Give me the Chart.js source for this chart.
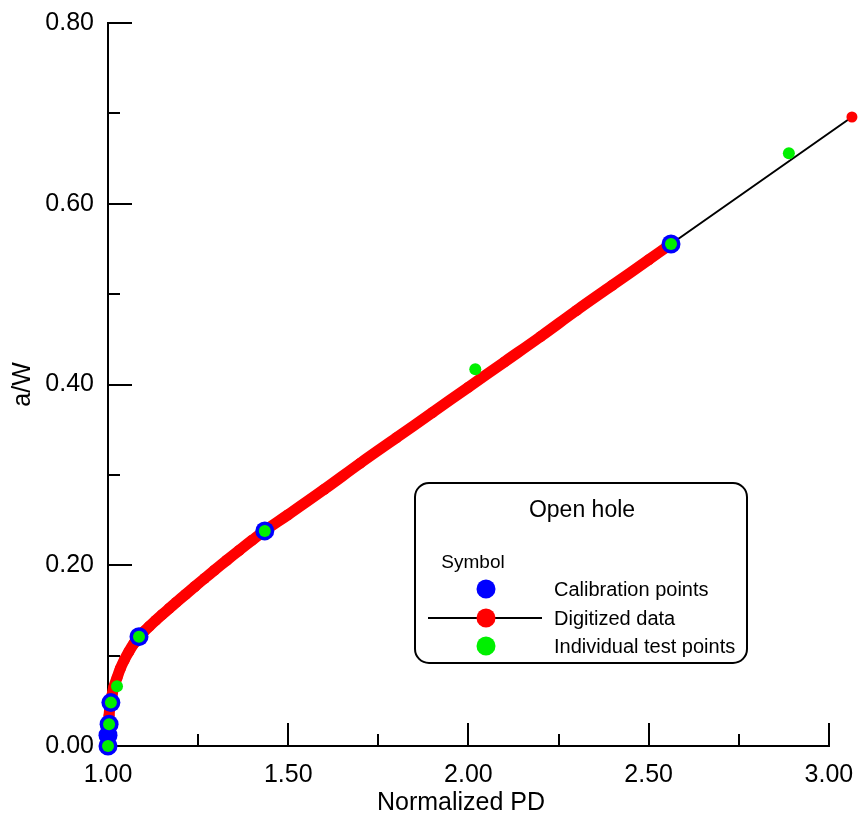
<!DOCTYPE html>
<html>
<head>
<meta charset="utf-8">
<script src="https://cdn.jsdelivr.net/npm/chart.js@4.4.1/dist/chart.umd.min.js"></script>
<style>
  html,body{margin:0;padding:0;background:#fff;overflow:hidden;}
  #wrap{width:860px;height:815px;position:relative;}
  canvas{display:block;}
</style>
</head>
<body>
<div id="wrap"><canvas id="c"></canvas></div>
<script>
// digitized a/W vs normalized PD curve
var digitizedPD = [1.000,1.000,1.001,1.002,1.003,1.005,1.008,1.012,1.016,1.025,1.034,1.045,1.058,1.072,1.086,1.100,1.115,1.132,1.150,1.170,1.190,1.215,1.241,1.268,1.296,1.330,1.365,1.400,1.435,1.500,1.600,1.700,1.800,1.900,2.000,2.100,2.200,2.300,2.400,2.500,2.562,3.064];
var digitizedAW = [0.000,0.010,0.018,0.026,0.034,0.042,0.050,0.058,0.065,0.0755,0.0855,0.095,0.1045,0.1135,0.121,0.1268,0.1326,0.1389,0.1453,0.1523,0.1592,0.1677,0.1765,0.1855,0.1947,0.2057,0.2168,0.2277,0.2383,0.256,0.284,0.313,0.341,0.369,0.397,0.425,0.453,0.482,0.510,0.538,0.5555,0.696];
// calibration points
var calibPD = [1.000,1.000,1.003,1.008,1.086,1.435,2.562];
var calibAW = [0.000,0.012,0.024,0.048,0.121,0.238,0.5555];
// individual test points
var testPD = [1.000,1.003,1.008,1.025,1.086,1.435,2.019,2.562,2.889];
var testAW = [0.000,0.024,0.048,0.066,0.121,0.238,0.417,0.5555,0.656];

var xTicks = [1.00,1.50,2.00,2.50,3.00];
var xMinor = [1.25,1.75,2.25,2.75];
var yTicks = [0.00,0.20,0.40,0.60,0.80];
var yMinor = [0.10,0.30,0.50,0.70];

var xTitle = 'Normalized PD';
var yTitle = 'a/W';
var legendTitle = 'Open hole';
var legendHeader = 'Symbol';

var FONT = '"Liberation Sans", Arial, sans-serif';

function pts(xs, ys){ return xs.map(function(x,i){ return {x:x, y:ys[i]}; }); }

var digitized = pts(digitizedPD, digitizedAW);

// x axis line (stops at 3.00) and inward tick marks
var insideTicks = {
  id:'insideTicks',
  beforeDatasetsDraw:function(chart){
    var ctx=chart.ctx, a=chart.chartArea, sx=chart.scales.x, sy=chart.scales.y;
    ctx.save(); ctx.strokeStyle='#000'; ctx.lineWidth=2;
    function seg(x1,y1,x2,y2){ ctx.beginPath(); ctx.moveTo(x1,y1); ctx.lineTo(x2,y2); ctx.stroke(); }
    var x0=sx.getPixelForValue(xTicks[0]), x1=sx.getPixelForValue(xTicks[xTicks.length-1]);
    seg(x0-1,a.bottom,Math.round(x1)+1,a.bottom);
    xTicks.forEach(function(v){ var p=Math.round(sx.getPixelForValue(v)); seg(p,a.bottom,p,a.bottom-23); });
    xMinor.forEach(function(v){ var p=Math.round(sx.getPixelForValue(v)); seg(p,a.bottom,p,a.bottom-12); });
    yTicks.forEach(function(v){ var p=Math.round(sy.getPixelForValue(v)); seg(a.left,p,a.left+24,p); });
    yMinor.forEach(function(v){ var p=Math.round(sy.getPixelForValue(v)); seg(a.left,p,a.left+12,p); });
    // x tick labels and title
    ctx.fillStyle='#000'; ctx.font='25px '+FONT; ctx.textAlign='center'; ctx.textBaseline='alphabetic';
    xTicks.forEach(function(v){ ctx.fillText(v.toFixed(2), sx.getPixelForValue(v), a.bottom+36); });
    ctx.fillText(xTitle, 461, a.bottom+64);
    ctx.restore();
  }
};

var boxLegend = {
  id:'boxLegend',
  afterDraw:function(chart){
    var ctx=chart.ctx, ds=chart.data.datasets;
    ctx.save();
    ctx.fillStyle='#fff'; ctx.strokeStyle='#000'; ctx.lineWidth=2;
    ctx.beginPath(); ctx.roundRect(415,483,332,180,14); ctx.fill(); ctx.stroke();
    ctx.fillStyle='#000'; ctx.textBaseline='middle';
    ctx.textAlign='center';
    ctx.font='23px '+FONT; ctx.fillText(legendTitle,582,511);
    ctx.font='19px '+FONT; ctx.fillText(legendHeader,473,563);
    ctx.textAlign='left'; ctx.font='20px '+FONT;
    var rows=[ds[1],ds[3],ds[0]], ys=[589,618,646];
    rows.forEach(function(d,i){
      if(d.showLine){ ctx.strokeStyle='#000'; ctx.lineWidth=2; ctx.beginPath(); ctx.moveTo(428,ys[i]); ctx.lineTo(542,ys[i]); ctx.stroke(); }
      ctx.fillStyle=d.pointBackgroundColor; ctx.beginPath(); ctx.arc(486,ys[i],9.5,0,Math.PI*2); ctx.fill();
      ctx.fillStyle='#000'; ctx.fillText(d.label,554,ys[i]+1);
    });
    ctx.restore();
  }
};

new Chart(document.getElementById('c'), {
  type:'scatter',
  data:{ datasets:[
    {label:'Individual test points', data:pts(testPD,testAW), pointRadius:6, pointHoverRadius:6,
     pointBackgroundColor:'#00f000', pointBorderWidth:0, order:0, clip:false},
    {label:'Calibration points', data:pts(calibPD,calibAW), pointRadius:9.5, pointHoverRadius:9.5,
     pointBackgroundColor:'#0000ff', pointBorderWidth:0, order:1, clip:false},
    {label:'band', data:digitized.slice(0,-1), showLine:true, borderColor:'#ff0000', borderWidth:11,
     borderCapStyle:'round', borderJoinStyle:'round', tension:0.4, pointRadius:0, order:2, clip:false},
    {label:'Digitized data', data:digitized, showLine:true, borderColor:'#000', borderWidth:2,
     pointRadius:5.5, pointHoverRadius:5.5, pointBackgroundColor:'#ff0000', pointBorderWidth:0, order:3, clip:false}
  ]},
  options:{
    responsive:true, maintainAspectRatio:false, animation:false,
    layout:{ padding:{ top:23, right:0, left:0, bottom:0 } },
    plugins:{ legend:{display:false}, tooltip:{enabled:false} },
    scales:{
      x:{ type:'linear', min:1, max:3.06,
        grid:{display:false, drawTicks:false}, border:{display:false},
        afterBuildTicks:function(s){ s.ticks=xTicks.map(function(v){return {value:v};}); },
        afterFit:function(s){ s.height=69; },
        ticks:{ display:false }
      },
      y:{ type:'linear', min:0, max:0.8,
        grid:{display:false, drawTicks:false}, border:{display:true, color:'#000', width:2},
        afterBuildTicks:function(s){ s.ticks=yTicks.map(function(v){return {value:v};}); },
        afterFit:function(s){ s.width=108; },
        ticks:{ color:'#000', padding:14, font:{family:FONT,size:25,lineHeight:0.4},
          callback:function(v){ return Number(v).toFixed(2); } },
        title:{ display:true, text:yTitle, color:'#000', font:{family:FONT,size:25}, padding:{top:8,bottom:0} }
      }
    }
  },
  plugins:[insideTicks, boxLegend]
});
</script>
</body>
</html>
